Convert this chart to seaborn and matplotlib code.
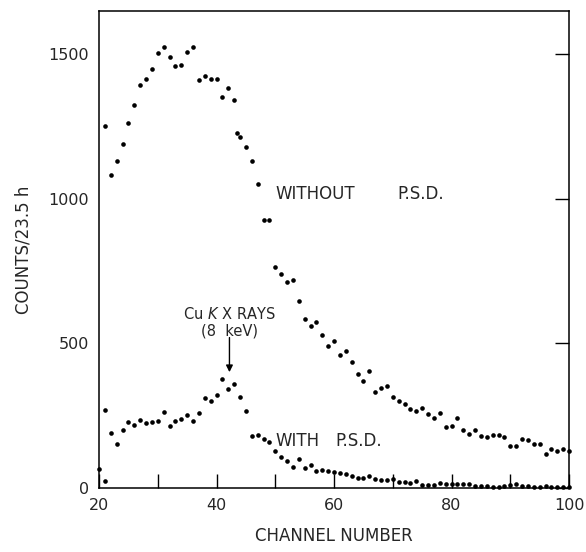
import matplotlib
matplotlib.use('Agg')
import matplotlib.pyplot as plt
import numpy as np
import pandas as pd
import seaborn as sns

# spectrum without pulse-shape discrimination
chan_without = [21, 22, 23, 24, 25, 26, 27, 28, 29, 30, 31, 32, 33, 34, 35, 36, 37, 38, 39, 40,
                41, 42, 43, 43.5, 44, 45, 46, 47, 48, 49, 50, 51, 52, 53, 54, 55, 56, 57, 58, 59,
                60, 61, 62, 63, 64, 65, 66, 67, 68, 69, 70, 71, 72, 73, 74, 75, 76, 77, 78, 79,
                80, 81, 82, 83, 84, 85, 86, 87, 88, 89, 90, 91, 92, 93, 94, 95, 96, 97, 98, 99, 100]
counts_without = [1253, 1084, 1131, 1189, 1262, 1326, 1395, 1415, 1450, 1505, 1525, 1490, 1460, 1465,
                  1509, 1525, 1412, 1425, 1415, 1415, 1352, 1383, 1342, 1227, 1214, 1181, 1130, 1050,
                  926, 926, 765, 741, 711, 719, 646, 583, 560, 575, 530, 492, 510, 460, 473, 436,
                  395, 370, 406, 333, 347, 353, 315, 301, 289, 272, 268, 276, 255, 242, 259, 212,
                  213, 242, 200, 188, 202, 180, 175, 183, 184, 178, 146, 146, 168, 165, 151, 151,
                  118, 136, 128, 135, 127]

# spectrum with pulse-shape discrimination
chan_with = [20, 21, 21, 22, 23, 24, 25, 26, 27, 28, 29, 30, 31, 32, 33, 34, 35, 36, 37, 38, 39,
             40, 41, 42, 43, 44, 45, 46, 47, 48, 49, 50, 51, 52, 53, 54, 55, 56, 57, 58, 59, 60,
             61, 62, 63, 64, 65, 66, 67, 68, 69, 70, 71, 72, 73, 74, 75, 76, 77, 78, 79, 80,
             81, 82, 83, 84, 85, 86, 87, 88, 89, 90, 91, 92, 93, 94, 95, 96, 97, 98, 99, 100]
counts_with = [67, 271, 25, 190, 153, 202, 227, 218, 236, 225, 229, 231, 262, 213, 233, 238, 252,
               232, 258, 310, 302, 321, 378, 342, 360, 316, 265, 180, 182, 170, 158, 129, 106, 94,
               72, 100, 70, 79, 57, 62, 58, 56, 52, 48, 41, 33, 36, 40, 30, 28, 28, 32, 22, 22,
               18, 24, 9, 10, 10, 18, 12, 15, 15, 13, 12, 8, 6, 6, 4, 4, 6, 10, 12, 6, 6, 4, 4,
               7, 4, 3, 3, 4]

x_ticks = [20, 40, 60, 80, 100]
x_minor = [30, 50, 70, 90]
y_ticks = [0, 500, 1000, 1500]

sns.set_style('white')
plt.rcParams['font.family'] = ['DejaVu Sans']

df = pd.concat([
    pd.DataFrame({'Channel': chan_without, 'Counts': counts_without, 'Set': 'without'}),
    pd.DataFrame({'Channel': chan_with, 'Counts': counts_with, 'Set': 'with'}),
], ignore_index=True)

fig = plt.figure(figsize=(5.86, 5.52), dpi=100)
ax = fig.add_axes([0.169, 0.116, 0.802, 0.864])
sns.scatterplot(data=df, x='Channel', y='Counts', color='black', s=11, linewidth=0,
                legend=False, ax=ax, clip_on=False)

ax.set_xlim(20, 100)
ax.set_ylim(0, 1650)
ax.set_xticks(x_ticks)
ax.set_xticks(x_minor, minor=True)
ax.set_yticks(y_ticks)
ax.tick_params(axis='both', which='both', direction='in', length=10, width=1, color='black',
               labelsize=11.5, pad=7)
ax.tick_params(axis='y', right=True, labelright=False)
ax.tick_params(axis='x', which='both', bottom=True)
for sp in ax.spines.values():
    sp.set_color('black')
    sp.set_linewidth(1.1)

ax.set_xlabel('CHANNEL NUMBER', fontsize=12, labelpad=10)
ax.set_ylabel('COUNTS/23.5 h', fontsize=12, labelpad=12)

ax.text(50, 1017, 'WITHOUT', fontsize=12, ha='left', va='center')
ax.text(70.7, 1017, 'P.S.D.', fontsize=12, ha='left', va='center')
ax.text(50, 164, 'WITH', fontsize=12, ha='left', va='center')
ax.text(60.2, 164, 'P.S.D.', fontsize=12, ha='left', va='center')
ax.text(42.1, 602, r'Cu $\mathit{K}$ X RAYS', fontsize=10.5, ha='center', va='center')
ax.text(42.2, 544, '(8  keV)', fontsize=10.5, ha='center', va='center')
ax.annotate('', xy=(42.2, 391), xytext=(42.2, 530),
            arrowprops=dict(arrowstyle='-|>', color='black', lw=1, mutation_scale=10))

fig.savefig('out.png', dpi=100)
